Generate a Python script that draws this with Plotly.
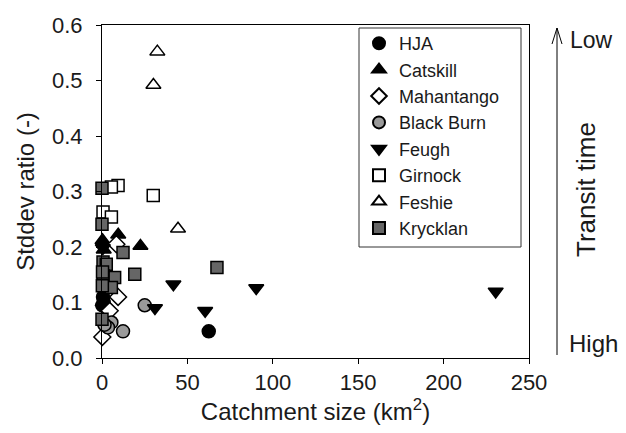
import plotly.graph_objects as go

# ---- data (catchment size km2, stddev ratio) ----
hja_x = [0.2, 1.0, 0.6, 62.5]
hja_y = [0.095, 0.100, 0.110, 0.048]

catskill_x = [0.3, 1.0, 9.5, 22.5, 0.4]
catskill_y = [0.212, 0.195, 0.222, 0.202, 0.100]

mahantango_x = [8.4, 9.4, 4.5, 0.2, 2.0]
mahantango_y = [0.205, 0.110, 0.085, 0.038, 0.060]

blackburn_x = [25.0, 5.5, 12.3, 3.5, 1.5]
blackburn_y = [0.095, 0.064, 0.048, 0.055, 0.060]

feugh_x = [0.5, 31.0, 41.8, 60.4, 90.3, 230.5]
feugh_y = [0.198, 0.090, 0.133, 0.085, 0.126, 0.120]

girnock_x = [9.4, 5.5, 0.6, 5.5, 30.0]
girnock_y = [0.311, 0.308, 0.263, 0.254, 0.293]

feshie_x = [32.4, 30.1, 44.5]
feshie_y = [0.552, 0.492, 0.233]

krycklan_x = [0.0, 0.0, 12.3, 0.6, 2.5, 19.2, 7.4, 0.6, 5.5, 0.2, 0.0, 67.3, 0.3]
krycklan_y = [0.306, 0.241, 0.190, 0.173, 0.169, 0.151, 0.145, 0.148, 0.127, 0.130, 0.070, 0.163, 0.155]

FONT = "Liberation Sans, Arial, sans-serif"
TXT = "#1a1a1a"

series = [
    ("HJA", hja_x, hja_y, "circle", "black", 13),
    ("Catskill", catskill_x, catskill_y, "triangle-up", "black", 13),
    ("Mahantango", mahantango_x, mahantango_y, "diamond", "white", 13),
    ("Black Burn", blackburn_x, blackburn_y, "circle", "#9a9a9a", 13),
    ("Feugh", feugh_x, feugh_y, "triangle-down", "black", 13),
    ("Girnock", girnock_x, girnock_y, "square", "white", 12),
    ("Feshie", feshie_x, feshie_y, "triangle-up", "white", 13),
    ("Krycklan", krycklan_x, krycklan_y, "square", "#666666", 12),
]

fig = go.Figure()
for name, xs, ys, sym, col, sz in series:
    fig.add_trace(go.Scatter(
        x=xs, y=ys, mode="markers", name=name, legendgroup=name,
        marker=dict(symbol=sym, color=col, size=sz,
                    line=dict(color="black", width=1.5)),
        cliponaxis=False,
    ))

W, H = 626, 433
L, R, T, B = 102, 529, 25, 358

def px(x):
    return (x - L) / (R - L)

def py(y):
    return (B - y) / (B - T)

fig.update_layout(
    width=W, height=H,
    margin=dict(l=L, r=W - R, t=T, b=H - B),
    paper_bgcolor="white", plot_bgcolor="white",
    font=dict(family=FONT, size=20, color=TXT),
    xaxis=dict(range=[0, 250], tickvals=[0, 50, 100, 150, 200, 250],
               showgrid=False, zeroline=False, showline=True, linecolor="black",
               linewidth=1, mirror=True, ticks="outside", ticklen=5,
               tickcolor="black", tickfont=dict(size=22, color=TXT),
               title=dict(text="Catchment size (km<sup>2</sup>)", font=dict(size=24, color=TXT), standoff=5)),
    yaxis=dict(range=[0, 0.6], tickvals=[0, 0.1, 0.2, 0.3, 0.4, 0.5, 0.6],
               tickformat=".1f",
               showgrid=False, zeroline=False, showline=True, linecolor="black",
               linewidth=1, mirror=True, ticks="outside", ticklen=5,
               tickcolor="black", tickfont=dict(size=22, color=TXT),
               ticklabelstandoff=9,
               title=dict(text="Stddev ratio (-)", font=dict(size=24, color=TXT), standoff=10)),
    legend=dict(x=px(359), y=1.0, xanchor="left", yanchor="top",
                borderwidth=0, bgcolor="rgba(0,0,0,0)",
                font=dict(size=18, color=TXT), tracegroupgap=0,
                itemsizing="constant", maxheight=420),
    showlegend=True,
)

# legend frame
fig.add_shape(type="rect", xref="paper", yref="paper",
              x0=px(359), x1=px(521), y0=py(247), y1=py(28),
              line=dict(color="#333", width=1), fillcolor="white", layer="above")

# Transit time arrow
ax_x = px(557)
fig.add_shape(type="line", xref="paper", yref="paper",
              x0=ax_x, x1=ax_x, y0=py(355), y1=py(28),
              line=dict(color="black", width=1))
fig.add_shape(type="line", xref="paper", yref="paper",
              x0=px(552), x1=ax_x, y0=py(44), y1=py(28),
              line=dict(color="black", width=1))
fig.add_shape(type="line", xref="paper", yref="paper",
              x0=px(562), x1=ax_x, y0=py(44), y1=py(28),
              line=dict(color="black", width=1))

fig.add_annotation(xref="paper", yref="paper", x=px(568), y=py(40),
                   text="Low", showarrow=False, xanchor="left", yanchor="middle",
                   font=dict(size=23, family=FONT, color=TXT))
fig.add_annotation(xref="paper", yref="paper", x=px(567), y=py(343),
                   text="High", showarrow=False, xanchor="left", yanchor="middle",
                   font=dict(size=24, family=FONT, color=TXT))
fig.add_annotation(xref="paper", yref="paper", x=px(586), y=py(190),
                   text="Transit time", showarrow=False, textangle=-90,
                   xanchor="center", yanchor="middle",
                   font=dict(size=26, family=FONT, color=TXT))

fig.write_html("out.html")
